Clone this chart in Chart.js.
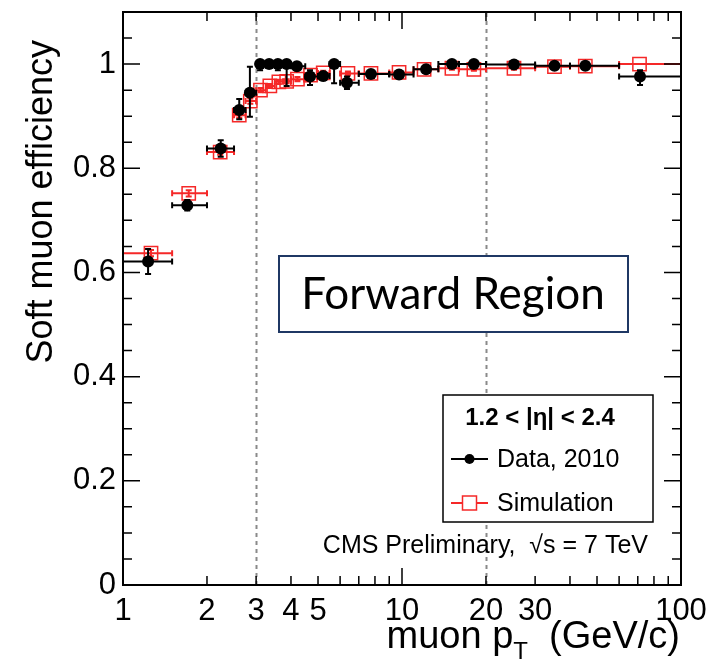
<!DOCTYPE html>
<html>
<head>
<meta charset="utf-8">
<title>Soft muon efficiency - forward region</title>
<script src="https://cdn.jsdelivr.net/npm/chart.js@4.4.1/dist/chart.umd.min.js"></script>
<style>
  html, body { margin: 0; padding: 0; background: #fff; }
  #wrap { width: 708px; height: 664px; }
</style>
</head>
<body>
<div id="wrap"><canvas id="effChart" width="708" height="664"></canvas></div>
<script>
// ===== values =====
// Data, 2010 (black dots)
const dataPt   = [1.23, 1.70, 2.24, 2.61, 2.85, 3.10, 3.34, 3.59, 3.86, 4.20, 4.68, 5.22, 5.71, 6.35, 7.74, 9.76, 12.2, 15.1, 18.1, 25.2, 35.2, 45.4, 71.3];
const dataEff  = [0.621, 0.729, 0.838, 0.912, 0.945, 1.0, 1.0, 1.0, 1.0, 0.996, 0.976, 0.977, 1.0, 0.964, 0.981, 0.980, 0.990, 1.0, 1.0, 0.999, 0.997, 0.997, 0.976];
const dataErrDn = [0.024, 0.010, 0.016, 0.018, 0.046, 0.012, 0.006, 0.012, 0.042, 0.008, 0.016, 0.008, 0.037, 0.012, 0.006, 0.006, 0.006, 0.006, 0.008, 0.005, 0.006, 0.006, 0.016];
const dataErrUp = [0.024, 0.010, 0.016, 0.021, 0.050, 0.0, 0.0, 0.0, 0.0, 0.004, 0.012, 0.008, 0.0, 0.012, 0.006, 0.006, 0.006, 0.0, 0.0, 0.001, 0.003, 0.003, 0.012];
const dataBinLo = [1, 1.5, 2, 2.5, 2.75, 3, 3.25, 3.5, 3.75, 4, 4.5, 5, 5.5, 6, 7, 9, 11, 13.5, 16, 20, 30, 40, 60];
const dataBinHi = [1.5, 2, 2.5, 2.75, 3, 3.25, 3.5, 3.75, 4, 4.5, 5, 5.5, 6, 7, 9, 11, 13.5, 16, 20, 30, 40, 60, 100];

// Simulation (red open squares)
const simPt    = [1.26, 1.72, 2.23, 2.61, 2.86, 3.11, 3.36, 3.62, 3.86, 4.22, 4.70, 5.22, 6.40, 7.74, 9.76, 12.0, 15.1, 18.1, 25.2, 35.2, 45.4, 71.0];
const simEff   = [0.637, 0.752, 0.831, 0.902, 0.929, 0.950, 0.958, 0.966, 0.967, 0.971, 0.979, 0.983, 0.982, 0.982, 0.984, 0.990, 0.992, 0.990, 0.992, 0.995, 0.996, 1.0];
const simErr   = [0.006, 0.006, 0.005, 0.005, 0.005, 0.004, 0.004, 0.004, 0.004, 0.004, 0.004, 0.004, 0.004, 0.003, 0.003, 0.003, 0.003, 0.003, 0.003, 0.003, 0.003, 0.0];
const simBinLo = [1, 1.5, 2, 2.5, 2.75, 3, 3.25, 3.5, 3.75, 4, 4.5, 5, 6, 7, 9, 11, 13.5, 16, 20, 30, 40, 60];
const simBinHi = [1.5, 2, 2.5, 2.75, 3, 3.25, 3.5, 3.75, 4, 4.5, 5, 5.5, 7, 9, 11, 13.5, 16, 20, 30, 40, 60, 100];

// axes
const ptTickLabels  = [1, 2, 3, 4, 5, 10, 20, 30, 100];
const effTickLabels = [0, 0.2, 0.4, 0.6, 0.8, 1];
const cutLines = [3, 20];   // dashed vertical lines

const FONT = "'Liberation Sans', Arial, sans-serif";
const RED = 'rgb(245,40,40)';

// error bars drawn under each dataset's markers (ROOT "E1" style with caps)
const errorBars = {
    id: 'errorBars',
    beforeDatasetDraw(chart, args) {
        const ds = chart.data.datasets[args.index];
        if (!ds.err) return;
        const { ctx } = chart;
        const xs = chart.scales.x, ys = chart.scales.y;
        const e = ds.err;
        ctx.save();
        ctx.strokeStyle = ds.errColor;
        ctx.lineWidth = 2;
        ds.data.forEach((p, i) => {
            const px = xs.getPixelForValue(p.x);
            const py = ys.getPixelForValue(p.y);
            const x0 = xs.getPixelForValue(e.xLo[i]);
            const x1 = xs.getPixelForValue(e.xHi[i]);
            const y0 = ys.getPixelForValue(p.y - e.dn[i]);
            const y1 = ys.getPixelForValue(p.y + e.up[i]);
            ctx.beginPath();
            ctx.moveTo(x0, py); ctx.lineTo(x1, py);
            ctx.moveTo(x0, py - 3); ctx.lineTo(x0, py + 3);
            ctx.moveTo(x1, py - 3); ctx.lineTo(x1, py + 3);
            if (y0 - py > 0.5) {
                ctx.moveTo(px, py); ctx.lineTo(px, y0);
                ctx.moveTo(px - 3, y0); ctx.lineTo(px + 3, y0);
            }
            if (py - y1 > 0.5) {
                ctx.moveTo(px, py); ctx.lineTo(px, y1);
                ctx.moveTo(px - 3, y1); ctx.lineTo(px + 3, y1);
            }
            ctx.stroke();
        });
        ctx.restore();
    }
};

// ROOT-like frame, inner ticks, dashed cut lines and annotations
const rootFrame = {
    id: 'rootFrame',
    beforeDatasetsDraw(chart) {
        const { ctx, chartArea: { top, bottom } } = chart;
        const xs = chart.scales.x;
        ctx.save();
        ctx.strokeStyle = '#8a8a8a';
        ctx.lineWidth = 2;
        ctx.setLineDash([4, 4]);
        cutLines.forEach(v => {
            const px = Math.round(xs.getPixelForValue(v)) + 0.5;
            ctx.beginPath();
            ctx.moveTo(px, bottom);
            ctx.lineTo(px, top);
            ctx.stroke();
        });
        ctx.restore();
    },
    afterDraw(chart) {
        const { ctx, chartArea: { left, right, top, bottom } } = chart;
        const xs = chart.scales.x, ys = chart.scales.y;
        ctx.save();

        // frame
        ctx.strokeStyle = '#000';
        ctx.lineWidth = 2;
        ctx.strokeRect(left, top, right - left, bottom - top);

        // y ticks every 0.05, long every 0.2
        ctx.lineWidth = 1.5;
        ctx.beginPath();
        for (let i = 0; i <= 22; i++) {
            const py = ys.getPixelForValue(i * 0.05);
            const len = i % 4 === 0 ? 17 : 9;
            ctx.moveTo(left, py); ctx.lineTo(left + len, py);
            ctx.moveTo(right, py); ctx.lineTo(right - len, py);
        }
        // x ticks on log scale
        [1, 10].forEach(d => {
            for (let k = 1; k <= 10; k++) {
                const v = k * d;
                const px = xs.getPixelForValue(v);
                const len = (k === 1 || k === 10) ? 17 : 9;
                ctx.moveTo(px, bottom); ctx.lineTo(px, bottom - len);
                ctx.moveTo(px, top); ctx.lineTo(px, top + len);
            }
        });
        ctx.stroke();

        // axis titles
        ctx.fillStyle = '#000';
        ctx.textBaseline = 'alphabetic';
        ctx.font = '38px ' + FONT;
        const tA = 'muon p', tB = '  (GeV/c)';
        const wA = ctx.measureText(tA).width;
        const wB = ctx.measureText(tB).width;
        ctx.font = '24px ' + FONT;
        const wT = ctx.measureText('T').width;
        let tx = 680 - (wA + wT + wB);
        ctx.textAlign = 'left';
        ctx.font = '38px ' + FONT;
        ctx.fillText(tA, tx, 648);
        ctx.font = '24px ' + FONT;
        ctx.fillText('T', tx + wA, 659);
        ctx.font = '38px ' + FONT;
        ctx.fillText(tB, tx + wA + wT, 648);

        ctx.save();
        ctx.translate(52, 40);
        ctx.rotate(-Math.PI / 2);
        ctx.textAlign = 'right';
        ctx.font = '36px ' + FONT;
        ctx.fillText('Soft muon efficiency', 0, 0);
        ctx.restore();

        // legend box
        ctx.fillStyle = '#fff';
        ctx.fillRect(443, 395, 210, 127);
        ctx.strokeStyle = '#000';
        ctx.lineWidth = 1.5;
        ctx.strokeRect(443, 395, 210, 127);
        ctx.fillStyle = '#000';
        ctx.textAlign = 'center';
        ctx.textBaseline = 'middle';
        ctx.font = 'bold 24px ' + FONT;
        ctx.fillText('1.2 < |\u03b7| < 2.4', 540, 418);
        ctx.textAlign = 'left';
        ctx.font = '25px ' + FONT;
        ctx.fillText('Data, 2010', 497, 460);
        ctx.fillText('Simulation', 497, 504);
        // legend markers
        ctx.lineWidth = 2;
        ctx.beginPath();
        ctx.moveTo(451, 459); ctx.lineTo(488, 459);
        ctx.stroke();
        ctx.beginPath();
        ctx.arc(469.5, 459, 5, 0, Math.PI * 2);
        ctx.fill();
        ctx.strokeStyle = RED;
        ctx.beginPath();
        ctx.moveTo(451, 503); ctx.lineTo(488, 503);
        ctx.stroke();
        ctx.lineWidth = 1.5;
        ctx.fillStyle = '#fff';
        ctx.fillRect(462.5, 496, 14, 14);
        ctx.strokeRect(462.5, 496, 14, 14);

        // CMS label
        ctx.fillStyle = '#000';
        ctx.textAlign = 'right';
        ctx.font = '25px ' + FONT;
        ctx.fillText('CMS Preliminary,  \u221as = 7 TeV', 648, 546);

        // "Forward Region" box
        ctx.fillStyle = '#fff';
        ctx.fillRect(279, 256, 349, 76);
        ctx.strokeStyle = '#1f3864';
        ctx.lineWidth = 2;
        ctx.strokeRect(279, 256, 349, 76);
        ctx.fillStyle = '#000';
        ctx.textAlign = 'center';
        ctx.font = "44px Lato, 'Open Sans', sans-serif";
        ctx.fillText('Forward Region', 453, 295);

        ctx.restore();
    }
};

const ctx = document.getElementById('effChart');

new Chart(ctx, {
    type: 'scatter',
    data: {
        datasets: [
            {
                label: 'Data, 2010',
                data: dataPt.map((x, i) => ({ x: x, y: dataEff[i] })),
                err: { xLo: dataBinLo, xHi: dataBinHi, dn: dataErrDn, up: dataErrUp },
                errColor: '#000',
                pointStyle: 'circle',
                pointRadius: 6,
                pointBorderWidth: 0,
                backgroundColor: '#000',
                borderColor: '#000',
                order: 0
            },
            {
                label: 'Simulation',
                data: simPt.map((x, i) => ({ x: x, y: simEff[i] })),
                err: { xLo: simBinLo, xHi: simBinHi, dn: simErr, up: simErr },
                errColor: RED,
                pointStyle: 'rect',
                pointRadius: 9.4,
                pointBorderWidth: 1.5,
                backgroundColor: 'rgba(0,0,0,0)',
                borderColor: RED,
                order: 1
            }
        ]
    },
    options: {
        responsive: false,
        animation: false,
        devicePixelRatio: 1,
        layout: { padding: { top: 12, right: 27, left: 0, bottom: 0 } },
        plugins: {
            legend: { display: false },
            tooltip: { enabled: false }
        },
        scales: {
            x: {
                type: 'logarithmic',
                min: 1,
                max: 100,
                grid: { display: false, drawTicks: false },
                border: { display: false },
                afterBuildTicks: (scale) => {
                    scale.ticks = ptTickLabels.map(v => ({ value: v }));
                },
                afterFit: (scale) => {
                    scale.height = 79;
                    scale.paddingLeft = 0;
                    scale.paddingRight = 0;
                },
                ticks: {
                    autoSkip: false,
                    maxRotation: 0,
                    padding: 8,
                    color: '#000',
                    font: { family: FONT, size: 31 },
                    callback: (v) => String(v)
                }
            },
            y: {
                type: 'linear',
                min: 0,
                max: 1.1,
                grid: { display: false, drawTicks: false },
                border: { display: false },
                afterBuildTicks: (scale) => {
                    scale.ticks = effTickLabels.map(v => ({ value: v }));
                },
                afterFit: (scale) => {
                    scale.width = 123;
                    scale.paddingTop = 0;
                    scale.paddingBottom = 0;
                },
                ticks: {
                    padding: 7,
                    color: '#000',
                    font: { family: FONT, size: 31 },
                    callback: (v) => (v === 0 || v === 1) ? String(v) : v.toFixed(1)
                }
            }
        }
    },
    plugins: [errorBars, rootFrame]
});
</script>
</body>
</html>
